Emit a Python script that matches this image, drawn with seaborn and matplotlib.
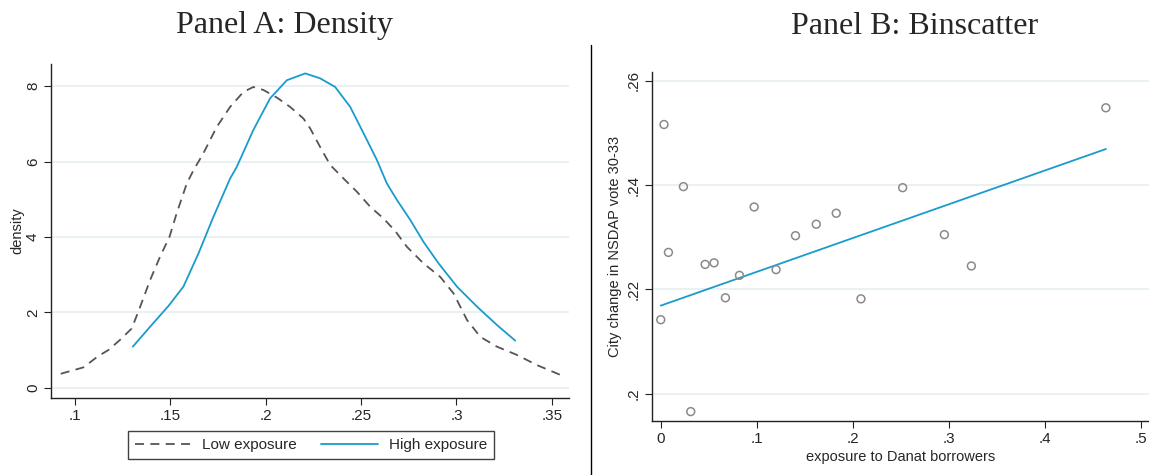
import matplotlib
matplotlib.use("Agg")
import matplotlib.pyplot as plt
import seaborn as sns
import pandas as pd
import numpy as np
from matplotlib.lines import Line2D

# ---------------- data ----------------
low_x = [0.0925, 0.1044, 0.1122, 0.1175, 0.1236, 0.1297, 0.1332, 0.1394, 0.1446, 0.1495,
         0.1533, 0.1586, 0.1621, 0.1673, 0.1743, 0.1813, 0.1883, 0.1935, 0.1988, 0.2058,
         0.2128, 0.2198, 0.2233, 0.2285, 0.2338, 0.2408, 0.2478, 0.2548, 0.2618, 0.2680,
         0.2740, 0.2827, 0.2915, 0.2985, 0.3055, 0.3125, 0.3212, 0.3317, 0.3422, 0.3545]
low_y = [0.37, 0.54, 0.84, 1.00, 1.27, 1.57, 2.02, 2.86, 3.48, 4.00,
         4.63, 5.42, 5.77, 6.22, 6.92, 7.45, 7.85, 7.98, 7.90, 7.70,
         7.45, 7.14, 6.88, 6.39, 5.91, 5.55, 5.20, 4.80, 4.49, 4.15,
         3.74, 3.30, 2.94, 2.50, 1.80, 1.35, 1.09, 0.87, 0.60, 0.34]

high_x = [0.1303, 0.1394, 0.1490, 0.1568, 0.1647, 0.1726, 0.1813, 0.1848, 0.1935, 0.2023,
          0.2111, 0.2207, 0.2285, 0.2364, 0.2443, 0.2513, 0.2583, 0.2635, 0.2688, 0.2758,
          0.2827, 0.2906, 0.3003, 0.3108, 0.3213, 0.3308]
high_y = [1.09, 1.62, 2.17, 2.68, 3.56, 4.54, 5.55, 5.86, 6.84, 7.68,
          8.16, 8.34, 8.21, 7.98, 7.45, 6.75, 6.04, 5.42, 4.98, 4.45,
          3.87, 3.30, 2.68, 2.15, 1.66, 1.25]

bin_x = [0.0000, 0.0034, 0.0080, 0.0236, 0.0312, 0.0462, 0.0555, 0.0673, 0.0819, 0.0972,
         0.1200, 0.1402, 0.1618, 0.1826, 0.2083, 0.2517, 0.2951, 0.3232, 0.4631]
bin_y = [0.2142, 0.2516, 0.2271, 0.2397, 0.1966, 0.2248, 0.2251, 0.2184, 0.2227, 0.2358,
         0.2238, 0.2303, 0.2325, 0.2346, 0.2182, 0.2395, 0.2305, 0.2245, 0.2548]

fit_x = [0.0, 0.4631]
fit_y = [0.2169, 0.2469]

a_xticks = [0.1, 0.15, 0.2, 0.25, 0.3, 0.35]
a_xlabels = [".1", ".15", ".2", ".25", ".3", ".35"]
a_yticks = [0, 2, 4, 6, 8]
b_xticks = [0, 0.1, 0.2, 0.3, 0.4, 0.5]
b_xlabels = ["0", ".1", ".2", ".3", ".4", ".5"]
b_yticks = [0.2, 0.22, 0.24, 0.26]
b_ylabels = [".2", ".22", ".24", ".26"]

# ---------------- style ----------------
sns.set_theme(style="white")
plt.rcParams['font.family'] = ['Liberation Sans', 'DejaVu Sans']

BLUE = "#1a9bcc"
GRAY = "#555555"
GRID = "#e6eff1"

fig = plt.figure(figsize=(11.49, 4.75), dpi=100)
axA = fig.add_axes([51/1149, 1-397.7/475, (569-51)/1149, (397.7-64)/475])
axB = fig.add_axes([651.7/1149, 1-421/475, (1149-651.7)/1149, (421-72.3)/475])

def style_axes(ax):
    for s in ["top", "right"]:
        ax.spines[s].set_visible(False)
    for s in ["left", "bottom"]:
        ax.spines[s].set_color("#222222")
        ax.spines[s].set_linewidth(1.0)
    ax.tick_params(axis="both", which="both", direction="out", length=5, width=0.8,
                   color="#222222", labelsize=11, left=True, bottom=True, pad=3)
    ax.grid(axis="y", color=GRID, linewidth=1.2)
    ax.grid(axis="x", visible=False)
    ax.set_axisbelow(True)
    for lab in ax.get_yticklabels():
        lab.set_rotation(90)
        lab.set_va("center")

# ---------------- Panel A ----------------
dfA = pd.concat([
    pd.DataFrame({"x": low_x, "y": low_y, "grp": "Low exposure"}),
    pd.DataFrame({"x": high_x, "y": high_y, "grp": "High exposure"}),
])
sns.lineplot(data=dfA, x="x", y="y", hue="grp", style="grp",
             palette={"Low exposure": GRAY, "High exposure": BLUE},
             dashes={"Low exposure": (5, 3.5), "High exposure": ""},
             linewidth=1.3, ax=axA, legend=False, sort=False, estimator=None)
axA.set_xlim(0.0874, 0.359)
axA.set_ylim(-0.265, 8.59)
axA.set_xticks(a_xticks)
axA.set_xticklabels(a_xlabels)
axA.set_yticks(a_yticks)
axA.set_yticklabels([str(v) for v in a_yticks])
axA.set_xlabel("")
axA.set_ylabel("density", fontsize=10.5, labelpad=1)
style_axes(axA)

handles = [Line2D([], [], color=GRAY, lw=1.3, dashes=(5, 3.5)),
           Line2D([], [], color=BLUE, lw=1.3)]
leg = fig.legend(handles, ["Low exposure", "High exposure"], ncol=2,
                 loc="center", bbox_to_anchor=(311/1149, 1-445/475),
                 frameon=True, fancybox=False, fontsize=11,
                 handlelength=3.7, columnspacing=1.6, borderpad=0.45, handletextpad=0.7)
leg.get_frame().set_edgecolor("#111111")
leg.get_frame().set_linewidth(1.0)

# ---------------- Panel B ----------------
sns.scatterplot(x=bin_x, y=bin_y, ax=axB, marker="o", s=32,
                facecolor="none", edgecolor="#8a8a8a", linewidth=1.1, zorder=3)
sns.lineplot(x=fit_x, y=fit_y, ax=axB, color=BLUE, linewidth=1.3, zorder=2)
axB.set_xlim(-0.0094, 0.508)
axB.set_ylim(0.1948, 0.2616)
axB.set_xticks(b_xticks)
axB.set_xticklabels(b_xlabels)
axB.set_yticks(b_yticks)
axB.set_yticklabels(b_ylabels)
axB.set_xlabel("exposure to Danat borrowers", fontsize=10.5, labelpad=3)
axB.set_ylabel("City change in NSDAP vote 30-33", fontsize=10.5, labelpad=3)
style_axes(axB)

# ---------------- titles & separator ----------------
fig.text(284/1149, 1-26/475, "Panel A: Density", ha="center", va="center",
         fontsize=23, family=["Liberation Serif", "DejaVu Serif"])
fig.text(915/1149, 1-26/475, "Panel B: Binscatter", ha="center", va="center",
         fontsize=23, family=["Liberation Serif", "DejaVu Serif"])
fig.add_artist(Line2D([591/1149, 591/1149], [0, 1-45/475], transform=fig.transFigure,
                      color="black", linewidth=1.0))

fig.savefig("out.png", dpi=100)
